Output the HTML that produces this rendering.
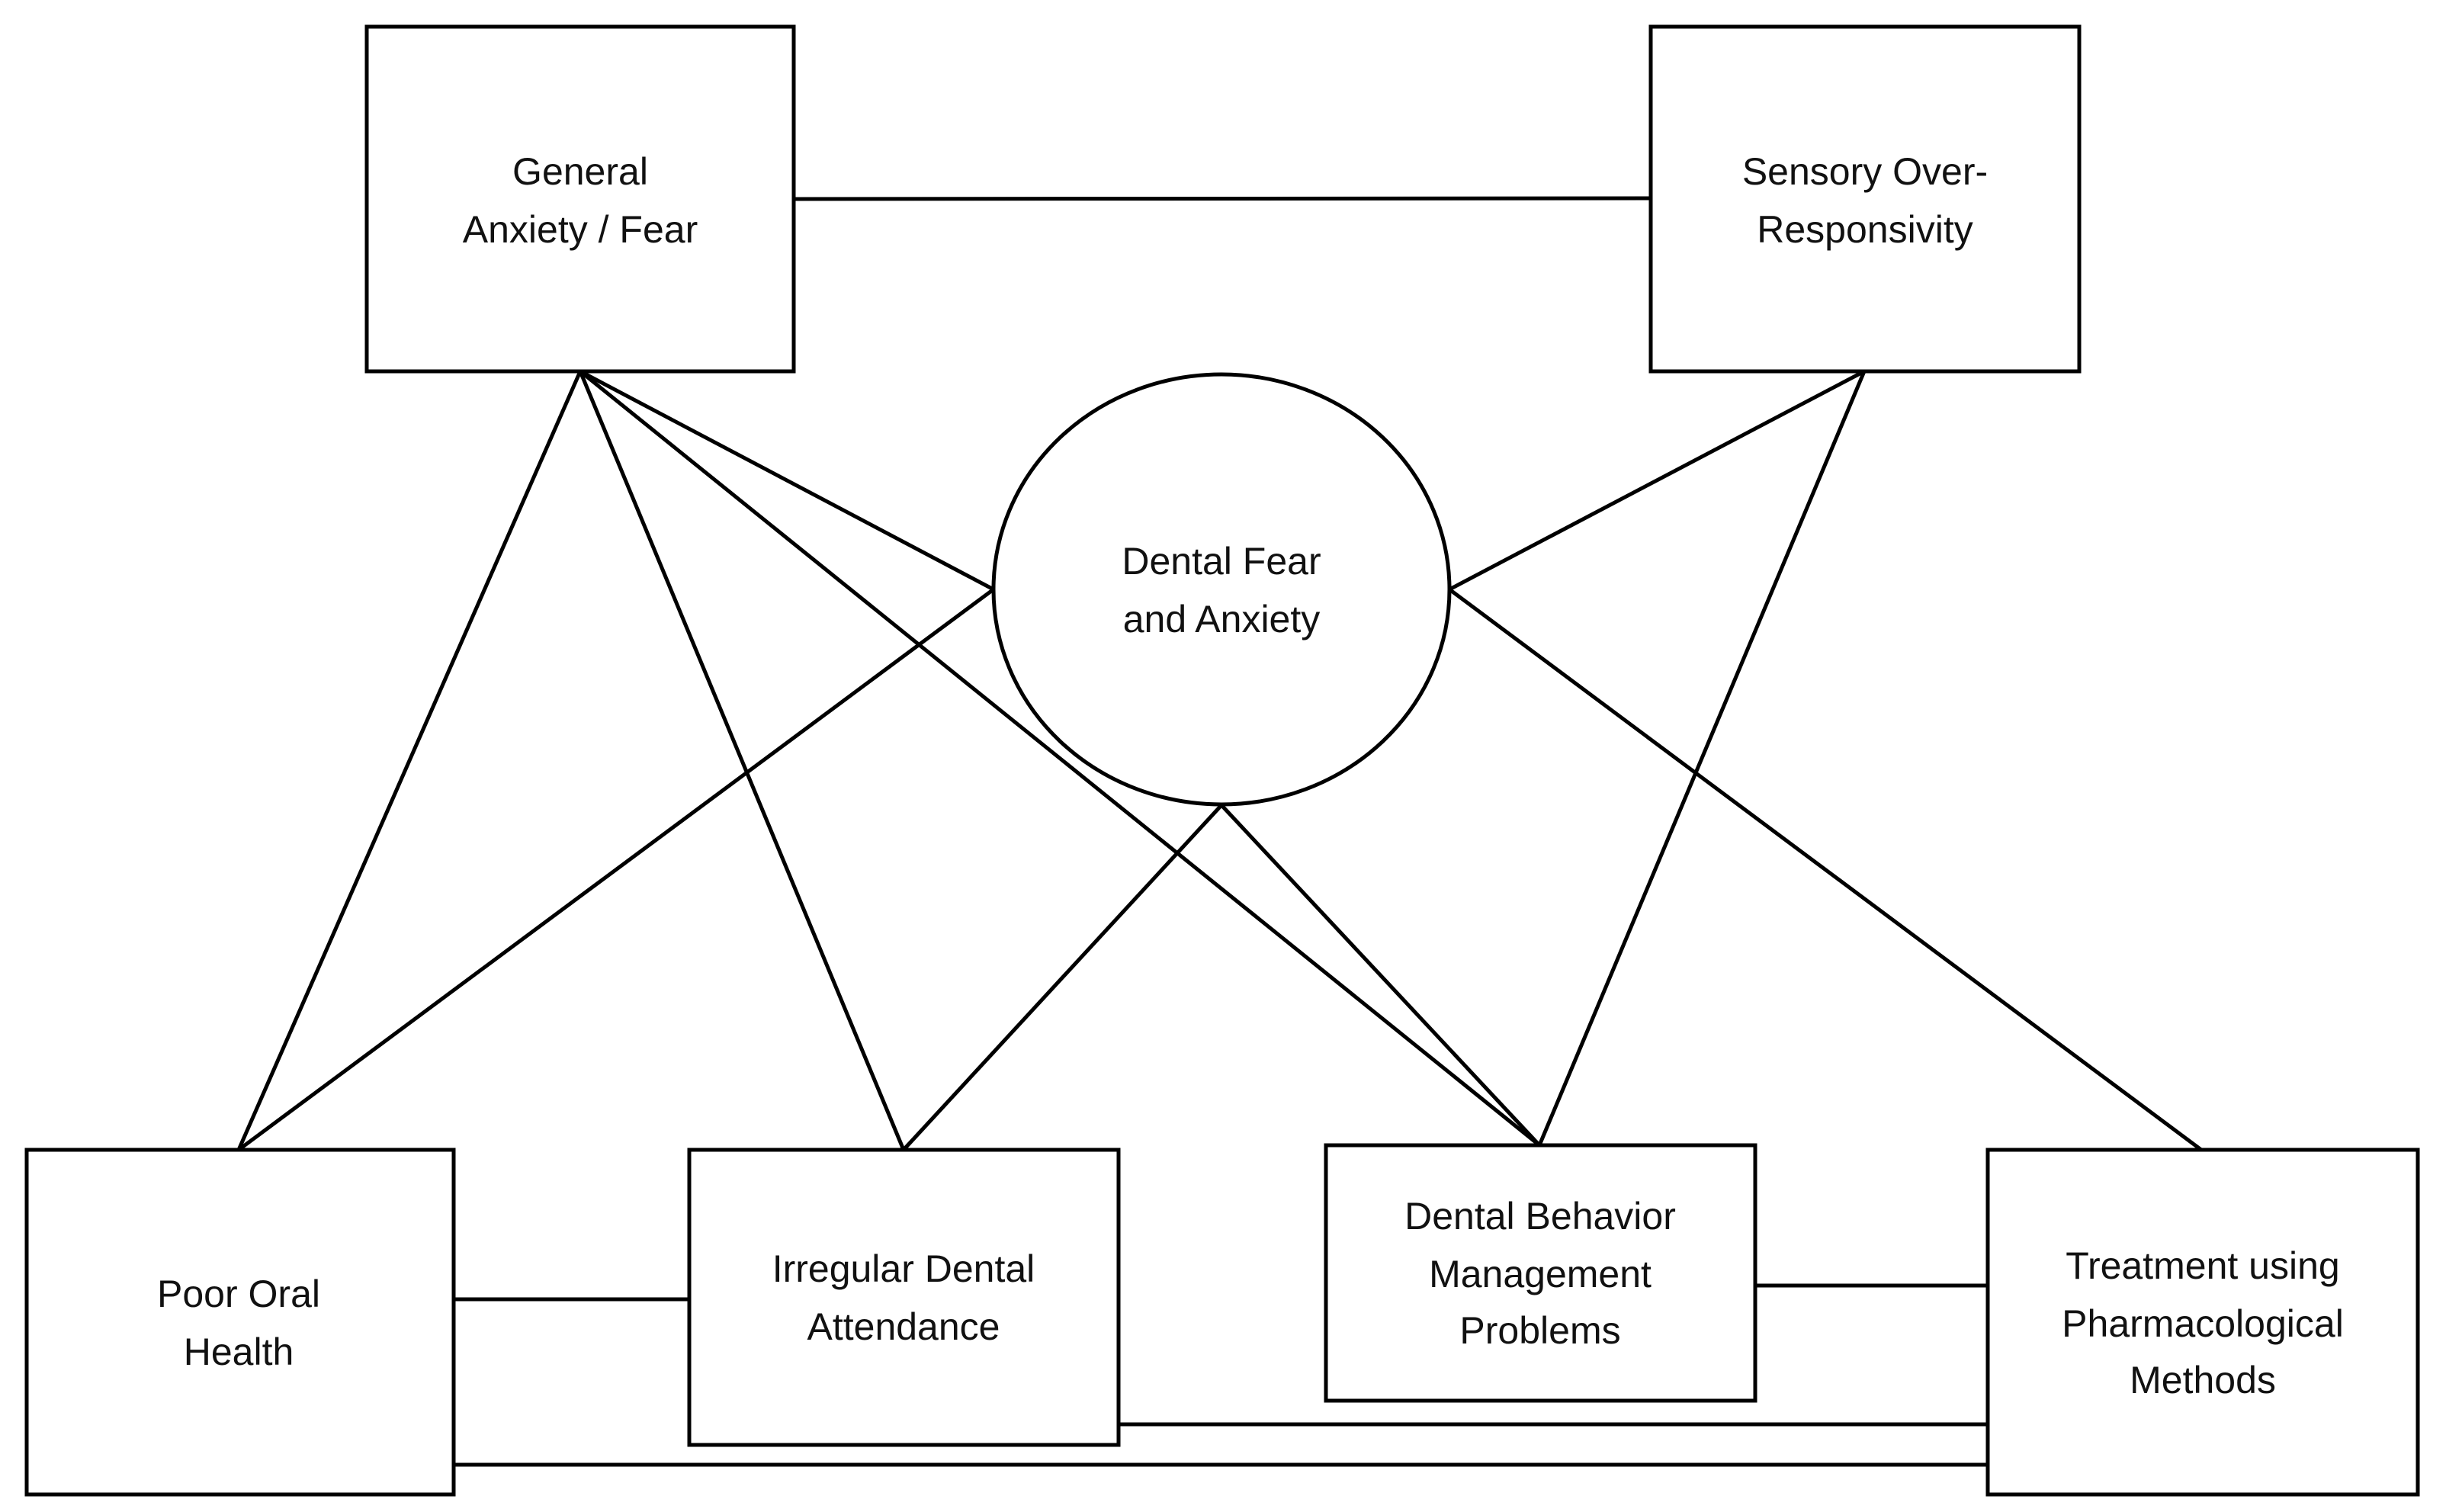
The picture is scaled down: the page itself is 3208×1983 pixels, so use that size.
<!DOCTYPE html>
<html><head><meta charset="utf-8"><style>
html,body{margin:0;padding:0;background:#fff;}
svg{display:block;}
text{font-family:"Liberation Sans",sans-serif;font-size:50px;fill:#111;text-anchor:middle;}
</style></head><body>
<svg width="3208" height="1983" viewBox="0 0 3208 1983" xmlns="http://www.w3.org/2000/svg">
<g stroke="#000" stroke-width="5" fill="none">
<line x1="1041" y1="261" x2="2165" y2="260"/>
<line x1="761" y1="487" x2="313" y2="1508"/>
<line x1="761" y1="487" x2="1185" y2="1508"/>
<line x1="761" y1="487" x2="1303" y2="773"/>
<line x1="761" y1="487" x2="2019" y2="1502"/>
<line x1="1303" y1="773" x2="313" y2="1508"/>
<line x1="1602" y1="1056" x2="1185" y2="1508"/>
<line x1="1602" y1="1056" x2="2019" y2="1502"/>
<line x1="2445" y1="487" x2="1901" y2="773"/>
<line x1="2445" y1="487" x2="2019" y2="1502"/>
<line x1="1901" y1="773" x2="2887" y2="1508"/>
<line x1="595" y1="1704" x2="904" y2="1704"/>
<line x1="2302" y1="1686" x2="2607" y2="1686"/>
<line x1="1467" y1="1868" x2="2607" y2="1868"/>
<line x1="595" y1="1921" x2="2607" y2="1921"/>
<rect x="481" y="35" width="560" height="452" fill="#fff"/>
<rect x="2165" y="35" width="562" height="452" fill="#fff"/>
<ellipse cx="1602" cy="773" rx="299" ry="282" fill="#fff"/>
<rect x="35" y="1508" width="560" height="452" fill="#fff"/>
<rect x="904" y="1508" width="563" height="387" fill="#fff"/>
<rect x="1739" y="1502" width="563" height="335" fill="#fff"/>
<rect x="2607" y="1508" width="564" height="452" fill="#fff"/>
</g>
<text x="761" y="242">General</text>
<text x="761" y="318">Anxiety / Fear</text>
<text x="2446" y="242">Sensory Over-</text>
<text x="2446" y="318">Responsivity</text>
<text x="1602" y="753">Dental Fear</text>
<text x="1602" y="829">and Anxiety</text>
<text x="313" y="1714">Poor Oral</text>
<text x="313" y="1790">Health</text>
<text x="1185" y="1681">Irregular Dental</text>
<text x="1185" y="1757">Attendance</text>
<text x="2020" y="1612">Dental Behavior</text>
<text x="2020" y="1688">Management</text>
<text x="2020" y="1762">Problems</text>
<text x="2889" y="1677">Treatment using</text>
<text x="2889" y="1753">Pharmacological</text>
<text x="2889" y="1827">Methods</text>
</svg>
</body></html>
